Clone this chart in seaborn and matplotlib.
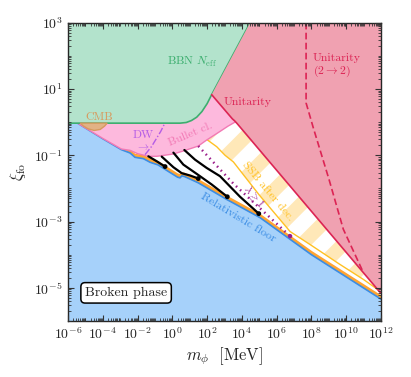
import numpy as np
import matplotlib
matplotlib.use("Agg")
import matplotlib.pyplot as plt
from matplotlib.ticker import LogLocator, NullFormatter
import seaborn as sns

# all values are log10(m_phi / MeV) and log10(xi_fo)
floor_logm = [-6.0, -5.45, -4.0, -2.93, -2.43, -2.15, -1.67, -1.28, -0.82, -0.25, 0.30, 0.44, 0.54, 0.70, 1.49, 3.12, 5.04, 8.0, 12.0]
floor_logxi = [-0.03, -0.03, -0.50, -0.83, -0.93, -1.06, -1.10, -1.21, -1.29, -1.48, -1.66, -1.68, -1.62, -1.64, -1.83, -2.33, -2.88, -4.0, -5.34]

orange_logm = [-2.93, -2.43, -2.15, -1.67, -1.28, -0.82, -0.25, 0.30, 0.44, 0.54, 0.70, 1.49, 3.12, 5.04, 8.0, 12.0]
orange_logxi = [-0.83, -0.86, -0.98, -1.01, -1.12, -1.20, -1.39, -1.57, -1.59, -1.53, -1.55, -1.74, -2.24, -2.79, -3.91, -5.25]

bullet_logm = [-6.0, -5.45, -4.0, -2.93, -2.43, -2.0, -1.4, -0.9, -0.6, 0.06, 0.69, 1.49, 1.97, 2.74, 3.2, 3.6]
bullet_logxi = [-0.03, -0.03, -0.49, -0.81, -0.85, -0.95, -1.03, -1.03, -1.01, -0.96, -0.86, -0.72, -0.54, -0.28, -0.12, 0.0]

bbn_logm = [-6.0, 0.44, 0.8, 1.1, 1.4, 1.7, 2.0, 2.26, 4.47]
bbn_logxi = [-0.03, -0.03, -0.01, 0.05, 0.15, 0.32, 0.56, 0.83, 3.0]

unit_logm = [2.26, 3.45, 3.58, 3.72, 12.0]
unit_logxi = [0.83, 0.10, 0.04, -0.04, -5.17]

uni22_logm = [7.69, 7.69, 8.11, 9.01, 9.83, 10.95]
uni22_logxi = [3.0, 0.58, -0.18, -1.73, -3.23, -4.50]

ssb_logm = [1.97, 2.55, 3.03, 3.51, 5.0, 6.77, 8.0, 9.6, 11.0, 12.0]
ssb_logxi = [-0.52, -0.74, -1.0, -1.2, -2.2, -3.30, -3.72, -4.28, -4.75, -5.12]

cmb_logm = [-5.3, -5.1, -4.85, -4.5, -4.15, -3.9, -3.75]
cmb_logxi = [-0.03, -0.12, -0.20, -0.25, -0.22, -0.12, -0.03]

dw_logm = [-1.57, -1.19, -0.90, -0.67, -0.46]
dw_logxi = [-0.98, -0.73, -0.48, -0.28, -0.06]

lam_logm = [1.49, 3.5, 6.77]
lam_logxi = [-0.72, -1.85, -3.44]

curves_logm = [
    [-1.38, -0.90, -0.42],
    [-0.61, 0.06, 0.54, 1.02, 1.49],
    [0.06, 0.63, 1.40, 2.26, 3.16],
    [0.69, 1.30, 1.97, 2.74, 3.89, 4.97],
]
curves_logxi = [
    [-1.03, -1.18, -1.34],
    [-1.04, -1.36, -1.54, -1.61, -1.70],
    [-0.92, -1.28, -1.56, -1.88, -2.25],
    [-0.84, -1.13, -1.38, -1.63, -2.25, -2.76],
]

xtick_exp = np.arange(-6, 13, 2)
ytick_exp = np.arange(-5, 4, 2)

c_blue, c_blue_l = "#a6d1fa", "#3b8de4"
c_green, c_green_l = "#b3e3cc", "#3dae6f"
c_pink, c_pink_l = "#fdb9dd", "#f27ab5"
c_red, c_red_l = "#f0a1b1", "#dc2454"
c_orange = "#ffa431"
c_stripe, c_yellow = "#ffe8b8", "#ffc124"
c_cmb, c_cmb_l = "#e2b285", "#d79a5e"
c_purple, c_dw = "#9b1d8a", "#b45de6"

sns.set_style("ticks")
plt.rcParams["font.family"] = "serif"
plt.rcParams["font.serif"] = ["cmr10"]
plt.rcParams["mathtext.fontset"] = "cm"
plt.rcParams["axes.formatter.use_mathtext"] = True


def p(a):
    return 10.0 ** np.asarray(a)


fig = plt.figure(figsize=(4.11, 3.77), dpi=100)
ax = fig.add_axes([0.1655, 0.1485, 0.7616, 0.7912])
ax.set_xscale("log")
ax.set_yscale("log")

# relativistic floor + orange band
ax.fill_between(p(orange_logm), 1e-7, p(orange_logxi), color=c_orange, lw=0, zorder=1)
ax.plot(p(orange_logm), p(orange_logxi), color=c_orange, lw=1.2, zorder=1.1)
ax.fill_between(p(floor_logm), 1e-7, p(floor_logxi), color=c_blue, lw=0, zorder=1.2)
ax.plot(p(floor_logm), p(floor_logxi), color=c_blue_l, lw=1.2, zorder=1.3)

# striped SSB region
strip, = ax.fill(p(ssb_logm + [12.0, 1.97]), p(ssb_logxi + [3.0, 3.0]),
                 facecolor="white", edgecolor="none", zorder=2)
W, H = 313.0, 298.0
for u0 in np.arange(-1.2, 1.3, 41.0 / W):
    ln, = ax.plot([u0, u0 + H / W], [0, 1], transform=ax.transAxes, color=c_stripe,
                  lw=10, solid_capstyle="butt", zorder=2.1)
    ln.set_clip_path(strip)
ax.plot(p(ssb_logm), p(ssb_logxi), color=c_yellow, lw=1.0, zorder=2.2)

# bullet cluster
ax.fill(p(bullet_logm + [3.6, -6.0]), p(bullet_logxi + [3.0, 3.0]), color=c_pink, lw=0, zorder=3)
ax.plot(p(bullet_logm[1:]), p(bullet_logxi[1:]), color=c_pink_l, lw=1.0, zorder=3.1)

# BBN
ax.fill(p(bbn_logm + [-6.0]), p(bbn_logxi + [3.0]), color=c_green, lw=0, zorder=4)
ax.plot(p(bbn_logm), p(bbn_logxi), color=c_green_l, lw=1.2, zorder=4.1)

# unitarity
ax.fill(p([4.47, 12.0] + unit_logm[::-1]), p([3.0, 3.0] + unit_logxi[::-1]), color=c_red, lw=0, zorder=5)
ax.plot(p(unit_logm), p(unit_logxi), color=c_red_l, lw=1.2, zorder=5.1)
sns.lineplot(x=p(uni22_logm), y=p(uni22_logxi), ax=ax, color=c_red_l, lw=1.2,
             linestyle=(0, (4, 2)), sort=False, estimator=None, zorder=5.2)

# CMB
ax.fill(p(cmb_logm), p(cmb_logxi), facecolor=c_cmb, edgecolor=c_cmb_l, lw=1.0, zorder=4.5)

# DW, lambda >= 1 and benchmark curves
sns.lineplot(x=p(dw_logm), y=p(dw_logxi), ax=ax, color=c_dw, lw=1.0,
             linestyle=(0, (5, 1.5, 1, 1.5)), sort=False, estimator=None, zorder=6)
sns.lineplot(x=p(lam_logm), y=p(lam_logxi), ax=ax, color=c_purple, lw=1.8,
             linestyle=(0, (0.6, 1.6)), sort=False, estimator=None, zorder=6)
sns.scatterplot(x=p(lam_logm[-1:]), y=p(lam_logxi[-1:]), ax=ax, color=c_purple, s=10,
                edgecolor="none", zorder=7)
for lm, lx in zip(curves_logm, curves_logxi):
    sns.lineplot(x=p(lm), y=p(lx), ax=ax, color="black", lw=1.6, sort=False,
                 estimator=None, zorder=6)
    sns.scatterplot(x=p(lm[-1:]), y=p(lx[-1:]), ax=ax, color="black", s=12,
                    edgecolor="none", zorder=7)

# labels
ax.text(10**1.13, 10**1.82, r"BBN $N_{\rm eff}$", color=c_green_l, fontsize=8.5, ha="center", va="center", zorder=8)
ax.text(10**4.35, 10**0.62, "Unitarity", color=c_red_l, fontsize=8.5, ha="center", va="center", zorder=8)
ax.text(10**8.09, 10**1.70, "Unitarity\n" + r"$(2\rightarrow2)$", color=c_red_l, fontsize=8.5,
        ha="left", va="center", linespacing=1.1, zorder=8)
ax.text(10**-4.22, 10**0.14, "CMB", color=c_cmb_l, fontsize=8.5, ha="center", va="center", zorder=8)
ax.text(10**-1.69, 10**-0.38, "DW", color=c_dw, fontsize=8.5, ha="center", va="center", zorder=8)
ax.text(10**-1.66, 10**-0.74, r"$\rightarrow$", color=c_dw, fontsize=8, ha="center", va="center", zorder=8)
ax.text(10**1.02, 10**-0.37, "Bullet cl.", color=c_pink_l, fontsize=8.5, rotation=23,
        ha="center", va="center", rotation_mode="anchor", zorder=8)
ax.text(10**5.5, 10**-2.09, "SSB after dec.", color=c_yellow, fontsize=8.5, rotation=-50,
        ha="center", va="center", rotation_mode="anchor", zorder=8)
ax.text(10**4.66, 10**-2.25, r"$\lambda\geq1$", color=c_purple, fontsize=8, rotation=-50,
        ha="center", va="center", rotation_mode="anchor", zorder=8)
ax.text(10**3.8, 10**-2.87, "Relativistic floor", color=c_blue_l, fontsize=8.5, rotation=-31,
        ha="center", va="center", rotation_mode="anchor", zorder=8)
ax.text(10**-2.66, 10**-5.15, "Broken phase", fontsize=10, ha="center", va="center", zorder=8,
        bbox=dict(boxstyle="round,pad=0.3,rounding_size=0.3", fc="white", ec="black", lw=1.1))

ax.set_xlim(1e-6, 1e12)
ax.set_ylim(1e-6, 1e3)
ax.set_xticks(p(xtick_exp))
ax.set_yticks(p(ytick_exp))
ax.xaxis.set_minor_locator(LogLocator(base=10, subs=np.arange(1, 10), numticks=200))
ax.yaxis.set_minor_locator(LogLocator(base=10, subs=np.arange(1, 10), numticks=200))
ax.xaxis.set_minor_formatter(NullFormatter())
ax.yaxis.set_minor_formatter(NullFormatter())
ax.tick_params(which="both", direction="in", top=True, right=True, labelsize=10, pad=4,
               color="#333333")
ax.tick_params(which="major", length=4, width=0.8)
ax.tick_params(which="minor", length=2, width=0.6)
ax.xaxis.set_zorder(11)
ax.yaxis.set_zorder(11)
for s in ax.spines.values():
    s.set_linewidth(1.0)
    s.set_zorder(10)
ax.set_xlabel(r"$m_\phi\ \ [\mathrm{MeV}]$", fontsize=12, labelpad=2)
ax.set_ylabel(r"$\xi_{\rm fo}$", fontsize=12, labelpad=4)

fig.savefig("out.png", dpi=100)
